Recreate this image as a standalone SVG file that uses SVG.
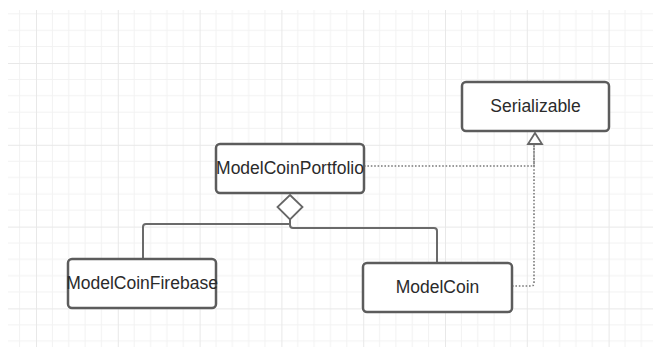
<svg xmlns="http://www.w3.org/2000/svg" width="653" height="347" viewBox="0 0 653 347">
  <defs>
    <!-- drawing-canvas grid: light minor lines, major line every fifth -->
    <pattern id="grid" patternUnits="userSpaceOnUse" x="36" y="63" width="81.8" height="81.8">
      <path d="M16.36 0V81.8M32.72 0V81.8M49.08 0V81.8M65.44 0V81.8M0 16.36H81.8M0 32.72H81.8M0 49.08H81.8M0 65.44H81.8" stroke="#f2f2f2" stroke-width="1" fill="none"/>
      <path d="M0.5 0V81.8M0 0.5H81.8" stroke="#e8e8e8" stroke-width="1" fill="none"/>
    </pattern>
    <style>
      .box { fill: #ffffff; stroke: #5c5c5c; stroke-width: 2.5; }
      .label { font-family: "Liberation Sans", Arial, sans-serif; font-size: 17.5px; fill: #2b2b2b; text-anchor: middle; dominant-baseline: central; }
      .solid { fill: none; stroke: #6a6a6a; stroke-width: 2; }
      .dotted { fill: none; stroke: #7a7a7a; stroke-width: 1.6; stroke-dasharray: 1.6 1.8; }
      .head { fill: #ffffff; stroke: #666666; stroke-width: 1.8; stroke-linejoin: miter; }
    </style>
  </defs>

  <rect width="653" height="347" fill="#ffffff"/>
  <rect x="8" y="10" width="645" height="337" fill="url(#grid)"/>

  <g id="connectors">
    <!-- aggregation: ModelCoinPortfolio owns ModelCoinFirebase and ModelCoin -->
    <path class="solid" d="M290 219V224H146Q143 224 143 227V259"/>
    <path class="solid" d="M290 219V225Q290 228 293 228H434Q437 228 437 231V263"/>
    <!-- realization of Serializable -->
    <path class="dotted" d="M364 166H534V144"/>
    <path class="dotted" d="M512 286H531Q534 286 534 283V144"/>
    <polygon class="head" points="290,195 302.5,207 290,219.5 277.5,207"/>
    <polygon class="head" points="535,133 542,144 528,144"/>
  </g>

  <g id="serializable">
    <rect class="box" x="462" y="82" width="147" height="49" rx="4"/>
    <text class="label" x="535.5" y="106">Serializable</text>
  </g>

  <g id="model-coin-portfolio">
    <rect class="box" x="216" y="144" width="148" height="49" rx="4"/>
    <text class="label" x="290" y="167.5">ModelCoinPortfolio</text>
  </g>

  <g id="model-coin-firebase">
    <rect class="box" x="68" y="259" width="148" height="49" rx="4"/>
    <text class="label" x="142" y="283">ModelCoinFirebase</text>
  </g>

  <g id="model-coin">
    <rect class="box" x="363" y="263" width="149" height="49" rx="4"/>
    <text class="label" x="437.5" y="286.5">ModelCoin</text>
  </g>
</svg>
